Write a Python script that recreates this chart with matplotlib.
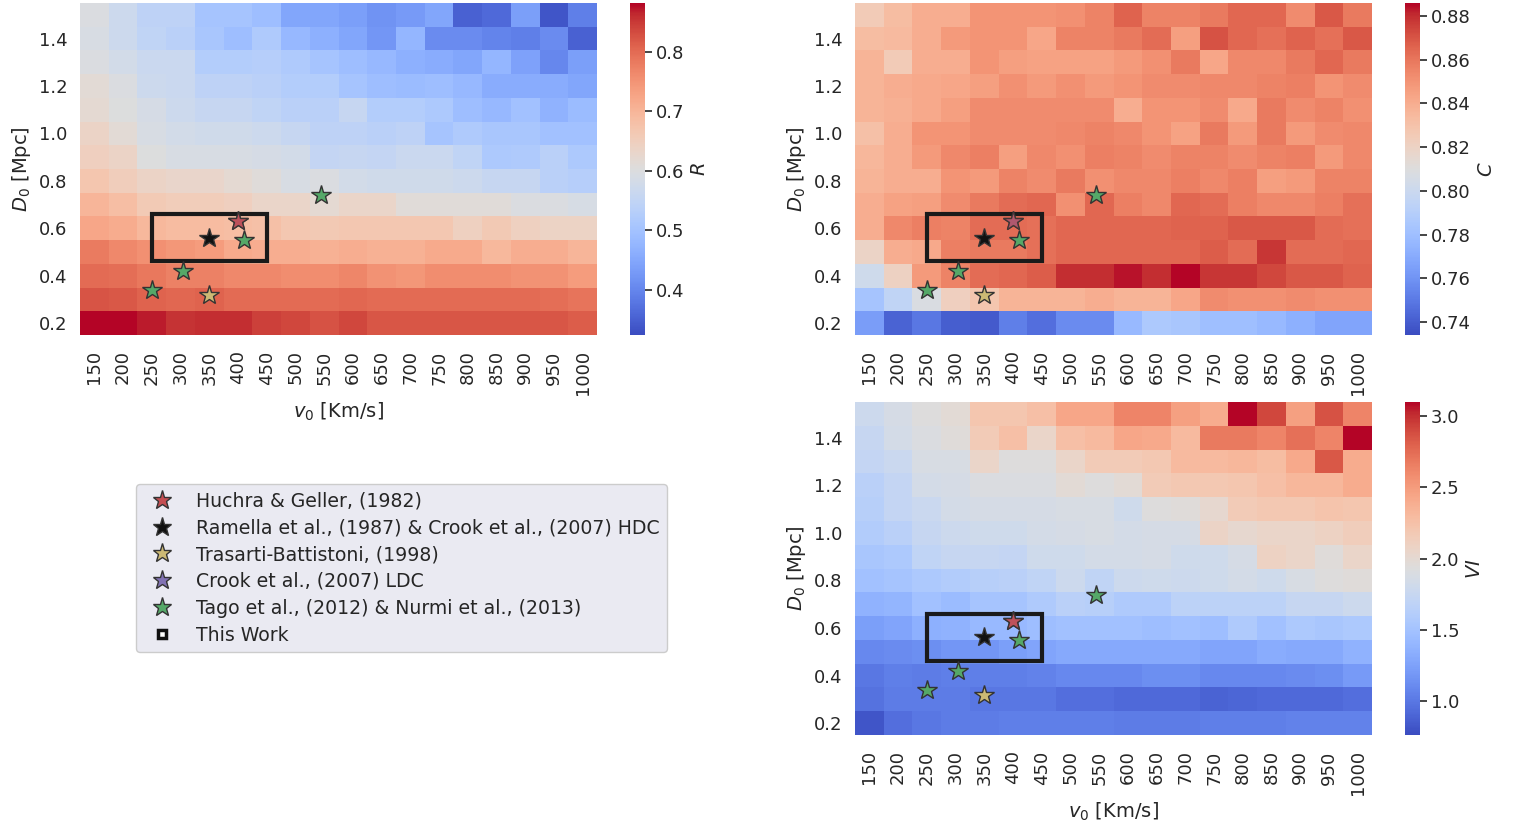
import numpy as np
import matplotlib
matplotlib.use("Agg")
import matplotlib.pyplot as plt
from matplotlib.lines import Line2D
from matplotlib.patches import Rectangle

# grid of parameters
v0 = [150, 200, 250, 300, 350, 400, 450, 500, 550, 600, 650, 700, 750, 800, 850, 900, 950, 1000]
d0 = [1.5, 1.4, 1.3, 1.2, 1.1, 1.0, 0.9, 0.8, 0.7, 0.6, 0.5, 0.4, 0.3, 0.2]  # rows top -> bottom

R = [
    [0.597, 0.570, 0.542, 0.542, 0.503, 0.503, 0.491, 0.447, 0.447, 0.436, 0.419, 0.430, 0.447, 0.352, 0.363, 0.436, 0.335, 0.391],
    [0.592, 0.570, 0.547, 0.536, 0.508, 0.491, 0.519, 0.480, 0.464, 0.447, 0.424, 0.475, 0.408, 0.408, 0.397, 0.391, 0.408, 0.352],
    [0.597, 0.581, 0.564, 0.564, 0.525, 0.525, 0.530, 0.519, 0.503, 0.491, 0.480, 0.464, 0.458, 0.447, 0.475, 0.441, 0.402, 0.436],
    [0.614, 0.597, 0.570, 0.564, 0.542, 0.542, 0.536, 0.525, 0.525, 0.503, 0.491, 0.486, 0.491, 0.480, 0.458, 0.458, 0.458, 0.447],
    [0.620, 0.603, 0.586, 0.570, 0.558, 0.558, 0.547, 0.536, 0.536, 0.558, 0.525, 0.525, 0.514, 0.491, 0.480, 0.497, 0.469, 0.486],
    [0.636, 0.614, 0.592, 0.581, 0.575, 0.575, 0.570, 0.558, 0.542, 0.542, 0.536, 0.542, 0.503, 0.519, 0.508, 0.508, 0.497, 0.497],
    [0.648, 0.636, 0.603, 0.592, 0.592, 0.592, 0.586, 0.581, 0.553, 0.558, 0.553, 0.564, 0.564, 0.547, 0.514, 0.519, 0.536, 0.514],
    [0.670, 0.653, 0.636, 0.631, 0.631, 0.620, 0.609, 0.592, 0.597, 0.581, 0.575, 0.575, 0.575, 0.570, 0.558, 0.558, 0.536, 0.530],
    [0.700, 0.685, 0.660, 0.655, 0.655, 0.648, 0.632, 0.632, 0.620, 0.632, 0.632, 0.610, 0.610, 0.610, 0.610, 0.598, 0.598, 0.588],
    [0.725, 0.715, 0.695, 0.690, 0.690, 0.684, 0.680, 0.668, 0.662, 0.668, 0.668, 0.668, 0.668, 0.645, 0.662, 0.645, 0.640, 0.640],
    [0.780, 0.765, 0.755, 0.745, 0.740, 0.718, 0.712, 0.712, 0.707, 0.712, 0.707, 0.707, 0.718, 0.718, 0.696, 0.712, 0.712, 0.701],
    [0.800, 0.795, 0.785, 0.775, 0.775, 0.765, 0.765, 0.758, 0.758, 0.768, 0.752, 0.746, 0.758, 0.758, 0.758, 0.752, 0.752, 0.740],
    [0.825, 0.820, 0.810, 0.805, 0.810, 0.800, 0.800, 0.800, 0.800, 0.805, 0.800, 0.800, 0.800, 0.800, 0.800, 0.800, 0.795, 0.790],
    [0.882, 0.882, 0.871, 0.854, 0.860, 0.860, 0.843, 0.837, 0.826, 0.837, 0.821, 0.821, 0.821, 0.821, 0.821, 0.821, 0.821, 0.815],
]

C = [
    [0.825, 0.833, 0.840, 0.840, 0.850, 0.850, 0.850, 0.851, 0.856, 0.866, 0.856, 0.856, 0.859, 0.865, 0.865, 0.853, 0.869, 0.859],
    [0.833, 0.834, 0.840, 0.848, 0.850, 0.850, 0.843, 0.856, 0.856, 0.859, 0.863, 0.846, 0.871, 0.865, 0.862, 0.866, 0.862, 0.869],
    [0.837, 0.825, 0.840, 0.840, 0.850, 0.846, 0.845, 0.845, 0.845, 0.848, 0.851, 0.859, 0.843, 0.854, 0.854, 0.859, 0.865, 0.859],
    [0.837, 0.840, 0.842, 0.843, 0.846, 0.851, 0.848, 0.851, 0.848, 0.850, 0.853, 0.853, 0.854, 0.854, 0.856, 0.857, 0.850, 0.853],
    [0.837, 0.839, 0.842, 0.846, 0.853, 0.853, 0.853, 0.853, 0.853, 0.840, 0.850, 0.850, 0.853, 0.842, 0.859, 0.853, 0.856, 0.851],
    [0.831, 0.840, 0.850, 0.850, 0.853, 0.853, 0.853, 0.854, 0.856, 0.854, 0.850, 0.845, 0.859, 0.848, 0.859, 0.848, 0.853, 0.854],
    [0.836, 0.840, 0.848, 0.854, 0.857, 0.846, 0.854, 0.851, 0.857, 0.856, 0.853, 0.856, 0.856, 0.853, 0.856, 0.857, 0.848, 0.854],
    [0.837, 0.840, 0.840, 0.850, 0.848, 0.856, 0.853, 0.859, 0.851, 0.854, 0.854, 0.857, 0.854, 0.857, 0.846, 0.848, 0.856, 0.856],
    [0.840, 0.845, 0.846, 0.853, 0.859, 0.863, 0.865, 0.851, 0.865, 0.857, 0.854, 0.865, 0.863, 0.857, 0.854, 0.854, 0.857, 0.862],
    [0.840, 0.854, 0.857, 0.856, 0.863, 0.863, 0.862, 0.865, 0.865, 0.865, 0.865, 0.866, 0.866, 0.869, 0.869, 0.869, 0.863, 0.862],
    [0.819, 0.840, 0.842, 0.857, 0.859, 0.859, 0.862, 0.865, 0.865, 0.865, 0.865, 0.865, 0.868, 0.863, 0.878, 0.863, 0.863, 0.865],
    [0.802, 0.821, 0.848, 0.856, 0.863, 0.865, 0.868, 0.880, 0.880, 0.884, 0.880, 0.886, 0.878, 0.878, 0.874, 0.869, 0.869, 0.866],
    [0.783, 0.795, 0.808, 0.822, 0.828, 0.837, 0.837, 0.837, 0.840, 0.837, 0.837, 0.843, 0.853, 0.851, 0.851, 0.853, 0.851, 0.851],
    [0.764, 0.742, 0.749, 0.740, 0.739, 0.752, 0.746, 0.757, 0.757, 0.777, 0.786, 0.784, 0.780, 0.780, 0.777, 0.772, 0.767, 0.767],
]

VI = [
    [1.79, 1.86, 1.93, 1.98, 2.21, 2.21, 2.26, 2.44, 2.44, 2.63, 2.63, 2.47, 2.40, 3.10, 2.91, 2.47, 2.87, 2.63],
    [1.74, 1.84, 1.91, 1.95, 2.16, 2.26, 2.05, 2.26, 2.30, 2.44, 2.42, 2.30, 2.68, 2.68, 2.63, 2.73, 2.63, 3.10],
    [1.72, 1.77, 1.88, 1.88, 2.05, 1.93, 1.93, 2.05, 2.16, 2.16, 2.19, 2.30, 2.30, 2.33, 2.28, 2.42, 2.84, 2.40],
    [1.65, 1.72, 1.84, 1.86, 1.91, 1.91, 1.91, 1.98, 1.93, 1.98, 2.16, 2.19, 2.19, 2.21, 2.26, 2.33, 2.33, 2.40],
    [1.63, 1.72, 1.77, 1.84, 1.86, 1.86, 1.86, 1.88, 1.88, 1.81, 1.93, 1.95, 2.02, 2.16, 2.19, 2.19, 2.23, 2.21],
    [1.60, 1.65, 1.74, 1.79, 1.81, 1.81, 1.84, 1.86, 1.88, 1.84, 1.86, 1.86, 2.07, 2.02, 2.05, 2.05, 2.09, 2.14],
    [1.53, 1.56, 1.70, 1.74, 1.74, 1.72, 1.81, 1.81, 1.84, 1.84, 1.86, 1.81, 1.81, 1.86, 2.09, 2.05, 1.95, 2.05],
    [1.49, 1.51, 1.56, 1.60, 1.63, 1.65, 1.70, 1.79, 1.70, 1.79, 1.81, 1.79, 1.81, 1.84, 1.81, 1.88, 1.93, 1.95],
    [1.37, 1.39, 1.49, 1.44, 1.51, 1.51, 1.58, 1.65, 1.63, 1.58, 1.58, 1.67, 1.67, 1.67, 1.67, 1.74, 1.74, 1.79],
    [1.23, 1.27, 1.35, 1.37, 1.42, 1.42, 1.46, 1.49, 1.49, 1.49, 1.46, 1.49, 1.46, 1.58, 1.49, 1.56, 1.53, 1.56],
    [1.09, 1.11, 1.13, 1.18, 1.18, 1.23, 1.27, 1.30, 1.30, 1.30, 1.30, 1.30, 1.27, 1.27, 1.32, 1.30, 1.30, 1.37],
    [0.99, 1.04, 1.02, 1.04, 1.04, 1.04, 1.06, 1.09, 1.09, 1.09, 1.13, 1.13, 1.09, 1.09, 1.09, 1.11, 1.13, 1.20],
    [0.97, 1.02, 1.02, 1.02, 0.99, 0.99, 0.99, 0.95, 0.95, 0.92, 0.92, 0.92, 0.88, 0.90, 0.92, 0.92, 0.92, 0.95],
    [0.81, 0.95, 0.99, 1.02, 1.02, 1.04, 1.04, 1.04, 1.04, 1.02, 1.02, 1.02, 1.04, 1.04, 1.04, 1.06, 1.06, 1.06],
]

# literature values (v0 [km/s], D0 [Mpc])
huchra = (400, 0.63)
ramella = (350, 0.56)
trasarti = (350, 0.32)
crook_ldc = (400, 0.63)
tago_v = [410, 305, 250, 545]
tago_d = [0.55, 0.42, 0.34, 0.74]
this_work = (250, 450, 0.46, 0.66)  # v0 min, v0 max, D0 min, D0 max

plt.rcParams["font.family"] = "DejaVu Sans"
plt.rcParams["text.color"] = ".15"
plt.rcParams["axes.labelcolor"] = ".15"
plt.rcParams["xtick.color"] = ".15"
plt.rcParams["ytick.color"] = ".15"

fig = plt.figure(figsize=(15.2, 8.27), dpi=100)
W, H = 1520, 827


def box(x0, y0, x1, y1):
    return [x0 / W, 1 - y1 / H, (x1 - x0) / W, (y1 - y0) / H]


def heat(ax, cax, data, vmin, vmax, label, ticks, fmt, xlabel, red_alpha=0.9):
    v = np.array(v0)
    d = np.array(d0)
    xe = np.append(v - 25, v[-1] + 25)
    ye = np.append(d + 0.05, d[-1] - 0.05)
    m = ax.pcolormesh(xe, ye, np.array(data), cmap="coolwarm", vmin=vmin, vmax=vmax)
    ax.set_xlim(125, 1025)
    ax.set_ylim(0.15, 1.55)
    ax.set_xticks(v0)
    ax.set_xticklabels([str(x) for x in v0], rotation=90, fontsize=13)
    yt = [0.2, 0.4, 0.6, 0.8, 1.0, 1.2, 1.4]
    ax.set_yticks(yt)
    ax.set_yticklabels(["%.1f" % y for y in yt], fontsize=13)
    ax.tick_params(axis="both", length=0)
    ax.tick_params(axis="x", pad=11)
    ax.tick_params(axis="y", pad=9)
    for s in ax.spines.values():
        s.set_visible(False)
    ax.set_ylabel(r"$D_0$ [Mpc]", fontsize=14)
    if xlabel:
        ax.set_xlabel(r"$v_0$ [Km/s]", fontsize=14)

    x0, x1, y0, y1 = this_work
    ax.add_patch(Rectangle((x0, y0), x1 - x0, y1 - y0, fill=False, edgecolor="#1a1a1a", lw=3, zorder=3))

    kw = dict(marker="*", ms=15, mec="#333333", mew=1.0, ls="none", zorder=4)
    ax.plot(*crook_ldc, color="#8172b3", **kw)
    ax.plot(*huchra, color="#c44e52", alpha=red_alpha, **kw)
    ax.plot(*ramella, color="#111111", **kw)
    ax.plot(*trasarti, color="#ccb974", **kw)
    ax.plot(tago_v, tago_d, color="#55a868", **kw)

    cb = fig.colorbar(m, cax=cax)
    cb.outline.set_visible(False)
    cb.set_ticks(ticks)
    cb.set_ticklabels([fmt % t for t in ticks])
    cb.ax.tick_params(labelsize=13, length=5, width=1.2, pad=3)
    cb.set_label(label, fontsize=14, labelpad=4)


ax1 = fig.add_axes(box(80, 3, 597, 335))
cax1 = fig.add_axes(box(630, 3, 645, 335))
heat(ax1, cax1, R, 0.324, 0.882, r"$R$", [0.4, 0.5, 0.6, 0.7, 0.8], "%.1f", True)

ax2 = fig.add_axes(box(855, 3, 1372, 335))
cax2 = fig.add_axes(box(1405, 3, 1420, 335))
heat(ax2, cax2, C, 0.734, 0.886, r"$C$", [0.74, 0.76, 0.78, 0.80, 0.82, 0.84, 0.86, 0.88], "%.2f", False,
     red_alpha=0.7)

ax3 = fig.add_axes(box(855, 402, 1372, 735))
cax3 = fig.add_axes(box(1405, 402, 1420, 735))
heat(ax3, cax3, VI, 0.76, 3.10, r"$VI$", [1.0, 1.5, 2.0, 2.5, 3.0], "%.1f", True)

hkw = dict(marker="*", ms=14, mec="#333333", mew=1.0, ls="none")
handles = [
    Line2D([], [], color="#c44e52", **hkw),
    Line2D([], [], color="#111111", **hkw),
    Line2D([], [], color="#ccb974", **hkw),
    Line2D([], [], color="#8172b3", **hkw),
    Line2D([], [], color="#55a868", **hkw),
    Line2D([], [], marker="s", ms=6, mfc="white", mec="#111111", mew=2.5, ls="none"),
]
labels = [
    "Huchra & Geller, (1982)",
    "Ramella et al., (1987) & Crook et al., (2007) HDC",
    "Trasarti-Battistoni, (1998)",
    "Crook et al., (2007) LDC",
    "Tago et al., (2012) & Nurmi et al., (2013)",
    "This Work",
]
leg = fig.legend(handles, labels, loc="upper left", bbox_to_anchor=(136 / W, 1 - 484 / H),
                 borderaxespad=0, fontsize=13.6, labelspacing=0.42, handletextpad=0.8,
                 facecolor="#EAEAF2", edgecolor="0.8", framealpha=1.0, borderpad=0.38)

fig.savefig("out.png", dpi=100)
